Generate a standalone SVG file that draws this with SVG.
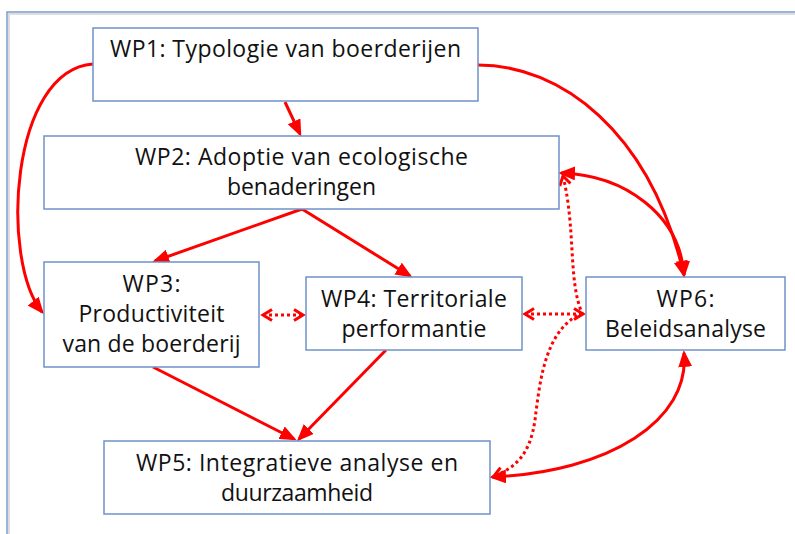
<svg xmlns="http://www.w3.org/2000/svg" width="795" height="534" viewBox="0 0 795 534">
<defs>
<style>
.box{fill:#fff;stroke:#6f93c8;stroke-width:1.5}
.t{font-family:"Open Sans","Liberation Sans",sans-serif;font-size:23px;fill:#111;text-anchor:middle}
.c{fill:none;stroke:#f00;stroke-width:3}
.d{fill:none;stroke:#f00;stroke-width:3;stroke-dasharray:3 3}
</style>
<marker id="ah" markerWidth="17" markerHeight="14" refX="14" refY="7" orient="auto-start-reverse" markerUnits="userSpaceOnUse"><path d="M0,0 L17,7 L0,14 z" fill="#f00"/></marker>
<marker id="ch" markerWidth="14" markerHeight="14" refX="11" refY="7" orient="auto-start-reverse" markerUnits="userSpaceOnUse"><path d="M2,1.5 L11,7 L2,12.5" fill="none" stroke="#f00" stroke-width="3" stroke-dasharray="none"/></marker>
</defs>
<rect x="0" y="0" width="795" height="534" fill="#fff"/>
<path d="M9,536 V14 H797" fill="none" stroke="#ddd" stroke-width="2"/>
<path d="M7,536 V12 H797" fill="none" stroke="#7a9ccf" stroke-width="1.5"/>

<g id="connectors">
<path class="c" d="M285,102 L300,134" marker-end="url(#ah)"/>
<path class="c" d="M93,64 C10,70 0,260 42,312" marker-end="url(#ah)"/>
<path class="c" d="M478,65 C560,65 650,130 684,275" marker-end="url(#ah)"/>
<path class="c" d="M561,173 C625,175 680,215 684,275" marker-start="url(#ah)" marker-end="url(#ah)"/>
<path class="c" d="M302,209 L155,261" marker-end="url(#ah)"/>
<path class="c" d="M302,209 L410,276" marker-end="url(#ah)"/>
<path class="d" d="M263,315 L303,315" marker-start="url(#ch)" marker-end="url(#ch)"/>
<path class="d" d="M525,314 L583,314" marker-start="url(#ch)" marker-end="url(#ch)"/>
<path class="d" d="M563,176 C576,230 568,280 582,313 C545,330 540,380 535,420 C530,455 515,468 494,476" marker-start="url(#ch)" marker-end="url(#ch)"/>
<path class="c" d="M684,353 C690,420 610,472 492,477" marker-start="url(#ah)" marker-end="url(#ah)"/>
<path class="c" d="M153,367 L294,439" marker-end="url(#ah)"/>
<path class="c" d="M386,350 L299,439" marker-end="url(#ah)"/>
</g>

<g id="wp1">
<rect class="box" x="93" y="28" width="385" height="73"/>
<text class="t" x="285.5" y="57" textLength="351">WP1: Typologie van boerderijen</text>
</g>
<g id="wp2">
<rect class="box" x="44" y="136" width="515" height="73"/>
<text class="t" x="301.5" y="165" textLength="333">WP2: Adoptie van ecologische</text>
<text class="t" x="301.5" y="195" textLength="149">benaderingen</text>
</g>
<g id="wp3">
<rect class="box" x="44" y="262" width="215" height="105"/>
<text class="t" x="151.5" y="292" textLength="58">WP3:</text>
<text class="t" x="151.5" y="322" textLength="146">Productiviteit</text>
<text class="t" x="151.5" y="352" textLength="178">van de boerderij</text>
</g>
<g id="wp4">
<rect class="box" x="306" y="277" width="216" height="73"/>
<text class="t" x="414" y="307" textLength="186">WP4: Territoriale</text>
<text class="t" x="414" y="337" textLength="145">performantie</text>
</g>
<g id="wp6">
<rect class="box" x="586" y="277" width="199" height="73"/>
<text class="t" x="685.5" y="307" textLength="58">WP6:</text>
<text class="t" x="685.5" y="337" textLength="161">Beleidsanalyse</text>
</g>
<g id="wp5">
<rect class="box" x="104" y="441" width="386" height="73"/>
<text class="t" x="297" y="471" textLength="322">WP5: Integratieve analyse en</text>
<text class="t" x="297" y="501" textLength="152">duurzaamheid</text>
</g>
</svg>
